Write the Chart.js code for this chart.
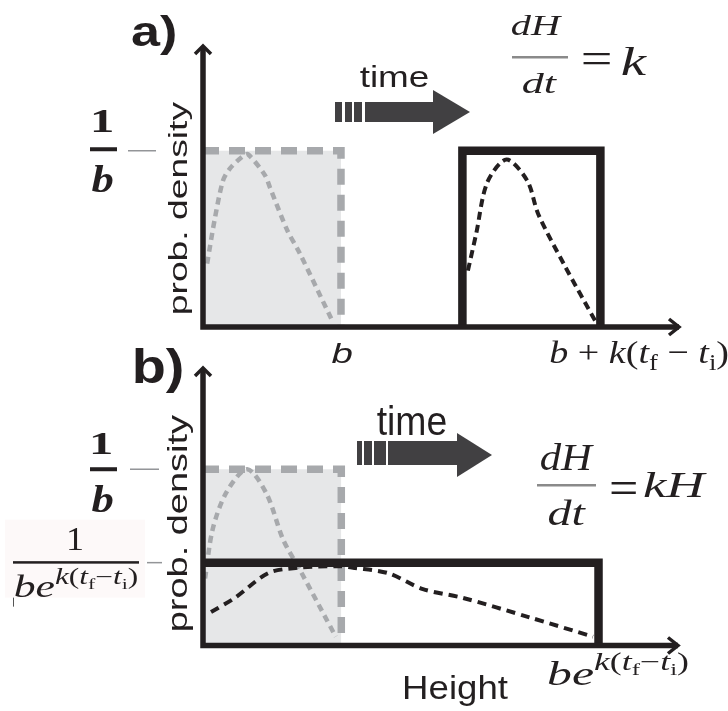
<!DOCTYPE html>
<html>
<head>
<meta charset="utf-8">
<script src="https://cdn.jsdelivr.net/npm/chart.js@4.4.1/dist/chart.umd.min.js"></script>
<style>
  html, body { margin: 0; padding: 0; background: #fff; }
  #wrap { position: relative; width: 728px; height: 711px; overflow: hidden; }
  canvas { position: absolute; left: 0; }
  #cA { top: 0; }
  #cB { top: 335px; }
</style>
</head>
<body>
<div id="wrap">
  <canvas id="cA" width="728" height="380"></canvas>
  <canvas id="cB" width="728" height="376"></canvas>
</div>
<script>
// ---- data (height in units of b, density in units of 1/b) ----
// initial uniform distribution: top edge and right edge of the box
const initialEdgeX = [0, 1, 1];
const initialEdgeY = [1, 1, 0];

// panel a: initial density curve and its linearly shifted counterpart
const initialCurveAX = [0.03, 0.087, 0.145, 0.196, 0.29, 0.326, 0.45, 0.486, 0.61, 0.70, 0.94];
const initialCurveAY = [0.36, 0.62, 0.83, 0.90, 0.97, 0.98, 0.86, 0.79, 0.55, 0.42, 0.03];
const linearBoxX = [1.88, 1.88, 2.88, 2.88];
const linearBoxY = [0, 1, 1, 0];
const linearCurveX = [1.92, 1.98, 2.06, 2.20, 2.35, 2.43, 2.62, 2.86];
const linearCurveY = [0.32, 0.53, 0.82, 0.95, 0.83, 0.64, 0.35, 0.01];

// panel b: initial density curve and the exponentially stretched one
const initialCurveBX = [0.015, 0.07, 0.17, 0.32, 0.46, 0.58, 0.70, 0.96];
const initialCurveBY = [0.38, 0.66, 0.87, 1.0, 0.86, 0.60, 0.43, 0.05];
const expBoxX = [0, 2.86, 2.86];
const expBoxY = [0.47, 0.47, 0];
const expCurveX = [0.058, 0.23, 0.47, 0.67, 0.98, 1.10, 1.34, 1.59, 1.88, 2.36, 2.82];
const expCurveY = [0.19, 0.27, 0.41, 0.44, 0.45, 0.44, 0.41, 0.32, 0.27, 0.16, 0.05];

// tick values
const yTicksA = [1];          // 1/b
const xTicksA = [1, 2.88];    // b, b + k(tf - ti)
const yTicksB = [1, 0.47];    // 1/b, 1/(b e^{k(tf-ti)})
const xTicksB = [2.86];       // b e^{k(tf-ti)}
const axisMaxA = { x: 3.457, y: 1.6 };
const axisMaxB = { x: 3.442, y: 1.58 };

// ---- helpers ----
const pts = (xs, ys) => xs.map((x, i) => ({ x, y: ys[i] }));
const INK = '#231f20';
const GREY = '#a7a9ac';
const SANS = '"Liberation Sans", Arial, sans-serif';
const SERIF = '"Liberation Serif", "Times New Roman", serif';

// draws a run of text pieces fitted into an ink box {x,y,w,h}
function drawRich(ctx, segs, box, opt = {}) {
  const base = 100;
  ctx.save();
  ctx.textBaseline = 'alphabetic';
  ctx.textAlign = 'left';
  let x = 0, L = Infinity, R = -Infinity, T = Infinity, B = -Infinity;
  const laid = [];
  for (const s of segs) {
    const size = base * (s.size || 1);
    const font = `${s.style || 'normal'} ${s.weight || 'normal'} ${size}px ${s.family || SERIF}`;
    ctx.font = font;
    const m = ctx.measureText(s.t);
    const dy = (s.dy || 0) * base;
    x += (s.dx || 0) * base;
    L = Math.min(L, x - m.actualBoundingBoxLeft);
    R = Math.max(R, x + m.actualBoundingBoxRight);
    T = Math.min(T, dy - m.actualBoundingBoxAscent);
    B = Math.max(B, dy + m.actualBoundingBoxDescent);
    laid.push({ font, t: s.t, x, dy });
    x += m.width;
  }
  const rot = opt.rot || 0;
  const bw = rot ? box.h : box.w, bh = rot ? box.w : box.h;
  ctx.translate(box.x + box.w / 2, box.y + box.h / 2);
  if (rot) ctx.rotate(rot);
  ctx.translate(-bw / 2, -bh / 2);
  ctx.scale(bw / (R - L), bh / (B - T));
  ctx.translate(-L, -T);
  ctx.fillStyle = opt.color || INK;
  for (const l of laid) { ctx.font = l.font; ctx.fillText(l.t, l.x, l.dy); }
  ctx.restore();
}

function rect(ctx, x, y, w, h, color) {
  ctx.save(); ctx.fillStyle = color; ctx.fillRect(x, y, w, h); ctx.restore();
}
function hline(ctx, x1, x2, y, color, w) {
  ctx.save(); ctx.strokeStyle = color; ctx.lineWidth = w;
  ctx.beginPath(); ctx.moveTo(x1, y); ctx.lineTo(x2, y); ctx.stroke(); ctx.restore();
}

// "time" arrow with three leading bars
function timeArrow(ctx, bars, body, head, y1, y2) {
  ctx.save();
  ctx.fillStyle = '#414042';
  for (const [a, b] of bars) ctx.fillRect(a, y1, b - a, y2 - y1);
  ctx.fillRect(body[0], y1, body[1] - body[0], y2 - y1);
  ctx.beginPath();
  ctx.moveTo(head.x0, head.top);
  ctx.lineTo(head.tip, (head.top + head.bottom) / 2);
  ctx.lineTo(head.x0, head.bottom);
  ctx.closePath();
  ctx.fill();
  ctx.restore();
}

// y and x axes with open arrow heads
function drawAxes(chart) {
  const ctx = chart.ctx;
  const { left, top, right, bottom } = chart.chartArea;
  ctx.save();
  ctx.setLineDash([]);
  ctx.strokeStyle = INK;
  ctx.lineWidth = 5.5;
  ctx.lineCap = 'butt';
  ctx.beginPath();
  ctx.moveTo(left, top + 2); ctx.lineTo(left, bottom + 2.75);
  ctx.moveTo(left - 2.75, bottom); ctx.lineTo(right - 1, bottom);
  ctx.stroke();
  ctx.lineWidth = 3.5;
  ctx.lineJoin = 'miter';
  ctx.beginPath();
  ctx.moveTo(left - 8, top + 9); ctx.lineTo(left, top + 1); ctx.lineTo(left + 8, top + 9);
  ctx.moveTo(right - 11, bottom - 8); ctx.lineTo(right - 1, bottom); ctx.lineTo(right - 11, bottom + 8);
  ctx.stroke();
  ctx.restore();
}

const it = (t, extra = {}) => Object.assign({ t, style: 'italic', family: SERIF }, extra);
const up = (t, extra = {}) => Object.assign({ t, family: SERIF }, extra);

const decor = {
  id: 'decor',
  afterDatasetsDraw(chart) { drawAxes(chart); },
  afterDraw(chart, args, opts) { opts.paint(chart); }
};

function lineSet(data, color, width, dash, order, extra = {}) {
  return Object.assign({
    data, showLine: true, borderColor: color, borderWidth: width, borderDash: dash,
    pointRadius: 0, fill: false, order, borderCapStyle: 'butt', borderJoinStyle: 'miter'
  }, extra);
}

function makeChart(id, datasets, max, padding, paint) {
  return new Chart(document.getElementById(id), {
    type: 'scatter',
    data: { datasets },
    options: {
      responsive: false,
      animation: false,
      events: [],
      layout: { padding },
      scales: {
        x: { type: 'linear', min: 0, max: max.x, display: false },
        y: { type: 'linear', min: 0, max: max.y, display: false }
      },
      plugins: { legend: { display: false }, tooltip: { enabled: false }, decor: { paint } }
    },
    plugins: [decor]
  });
}

// fraction-bar style math label: b e^{k(t_f - t_i)}
const expLabel = () => [
  it('be'), it('k', { size: 0.72, dy: -0.42 }), up('(', { size: 0.72, dy: -0.42 }),
  it('t', { size: 0.72, dy: -0.42 }), up('f', { size: 0.5, dy: -0.28 }),
  up('\u2212', { size: 0.72, dy: -0.42 }), it('t', { size: 0.72, dy: -0.42 }),
  up('i', { size: 0.5, dy: -0.28 }), up(')', { size: 0.72, dy: -0.42 })
];

// ---- panel a: dH/dt = k ----
makeChart('cA', [
  lineSet(pts(initialEdgeX, initialEdgeY), GREY, 7.5, [16, 10], 5,
    { fill: 'origin', backgroundColor: '#e6e7e8' }),
  lineSet(pts(initialCurveAX, initialCurveAY), GREY, 4.5, [7, 5], 4, { tension: 0.3 }),
  lineSet(pts(linearBoxX, linearBoxY), INK, 8.5, [], 2),
  lineSet(pts(linearCurveX, linearCurveY), INK, 4, [8, 5], 1, { tension: 0.3 })
], axisMaxA, { left: 203, top: 45, right: 48, bottom: 53 }, (chart) => {
  const ctx = chart.ctx, xs = chart.scales.x, ys = chart.scales.y;
  drawRich(ctx, [{ t: 'a)', family: SANS, weight: 'bold' }], { x: 132, y: 15, w: 43, h: 40 });

  const ty = ys.getPixelForValue(yTicksA[0]);
  hline(ctx, 128, 156, ty, '#939598', 1.5);
  drawRich(ctx, [up('1', { weight: 'bold' })], { x: 94, y: ty - 41, w: 18, h: 22 });
  rect(ctx, 90, ty - 3.5, 27, 4, INK);
  drawRich(ctx, [it('b', { weight: 'bold' })], { x: 92, y: ty + 14.5, w: 21, h: 27 });

  drawRich(ctx, [{ t: 'prob. density', family: SANS }], { x: 168, y: 102, w: 25, h: 211 }, { rot: -Math.PI / 2 });

  drawRich(ctx, [{ t: 'time', family: SANS }], { x: 360, y: 65, w: 68, h: 22 });
  timeArrow(ctx, [[335, 342], [345, 352], [354, 362]], [365, 434], { x0: 433, top: 90, bottom: 134, tip: 470 }, 102, 122);

  drawRich(ctx, [it('dH')], { x: 512, y: 15, w: 50, h: 20 });
  rect(ctx, 512, 56, 56, 2.5, '#8a8a8a');
  drawRich(ctx, [it('dt')], { x: 523, y: 72, w: 34, h: 21 });
  drawRich(ctx, [up('=')], { x: 583, y: 53, w: 27, h: 11 });
  drawRich(ctx, [it('k')], { x: 622, y: 47, w: 25, h: 28 });

  const xb = xs.getPixelForValue(xTicksA[0]);
  drawRich(ctx, [{ t: 'b', family: SANS, style: 'italic' }], { x: xb - 9, y: 342, w: 20, h: 21 });
  const xe = xs.getPixelForValue(xTicksA[1]);
  drawRich(ctx, [
    it('b'), up(' + '), it('k'), up('('), it('t'), up('f', { size: 0.7, dy: 0.22 }),
    up(' \u2212 '), it('t'), up('i', { size: 0.7, dy: 0.22 }), up(')')
  ], { x: xe - 50, y: 340, w: 177, h: 30 });
});

// ---- panel b: dH/dt = kH ----
makeChart('cB', [
  lineSet(pts(initialEdgeX, initialEdgeY), GREY, 7.5, [16, 10], 5,
    { fill: 'origin', backgroundColor: '#e6e7e8' }),
  lineSet(pts(initialCurveBX, initialCurveBY), GREY, 4.5, [7, 5], 4, { tension: 0.3 }),
  lineSet(pts(expBoxX, expBoxY), INK, 8.5, [], 2),
  lineSet(pts(expCurveX, expCurveY), INK, 4, [9, 6], 1, { tension: 0.3 })
], axisMaxB, { left: 203, top: 32, right: 49, bottom: 65.5 }, (chart) => {
  const ctx = chart.ctx, xs = chart.scales.x, ys = chart.scales.y;
  const oy = 335; // canvas top on the page
  ctx.save();
  ctx.translate(0, -oy);

  drawRich(ctx, [{ t: 'b)', family: SANS, weight: 'bold' }], { x: 135, y: 347, w: 47, h: 46 });

  const ty = ys.getPixelForValue(yTicksB[0]) + oy;
  hline(ctx, 130, 159, ty, '#939598', 1.5);
  drawRich(ctx, [up('1', { weight: 'bold' })], { x: 93, y: ty - 36, w: 18, h: 21 });
  rect(ctx, 90, ty - 2, 27, 4, INK);
  drawRich(ctx, [it('b', { weight: 'bold' })], { x: 92, y: ty + 17, w: 21, h: 26 });

  const ty2 = ys.getPixelForValue(yTicksB[1]) + oy;
  rect(ctx, 5, ty2 - 43, 140, 78, '#fdf9f9');
  hline(ctx, 147, 162, ty2, '#939598', 1.5);
  drawRich(ctx, [up('1')], { x: 69, y: ty2 - 35, w: 13, h: 22 });
  rect(ctx, 13, ty2 - 1.5, 126, 2.5, INK);
  drawRich(ctx, expLabel(), { x: 15, y: ty2 + 6, w: 122, h: 29 });
  ctx.save(); ctx.strokeStyle = '#555'; ctx.lineWidth = 1;
  ctx.beginPath(); ctx.moveTo(13.5, ty2 + 35); ctx.lineTo(13.5, ty2 + 44); ctx.stroke(); ctx.restore();

  drawRich(ctx, [{ t: 'prob. density', family: SANS }], { x: 167, y: 415, w: 26, h: 215 }, { rot: -Math.PI / 2 });

  drawRich(ctx, [{ t: 'time', family: SANS }], { x: 377, y: 405, w: 69, h: 30 });
  timeArrow(ctx, [[357, 362], [364, 372], [374, 386]], [388, 458], { x0: 457, top: 433, bottom: 477, tip: 492 }, 441, 465);

  drawRich(ctx, [it('dH')], { x: 541, y: 443, w: 53, h: 27 });
  rect(ctx, 537, 484, 59, 2.5, '#8a8a8a');
  drawRich(ctx, [it('dt')], { x: 549, y: 500, w: 37, h: 25 });
  drawRich(ctx, [up('=')], { x: 611, y: 482, w: 25, h: 12 });
  drawRich(ctx, [it('kH')], { x: 644, y: 472, w: 63, h: 25 });

  drawRich(ctx, [{ t: 'Height', family: SANS }], { x: 405, y: 675, w: 103, h: 31 });

  const xe = xs.getPixelForValue(xTicksB[0]);
  drawRich(ctx, expLabel(), { x: xe - 50, y: 653, w: 139, h: 32 });

  ctx.restore();
});
</script>
</body>
</html>
